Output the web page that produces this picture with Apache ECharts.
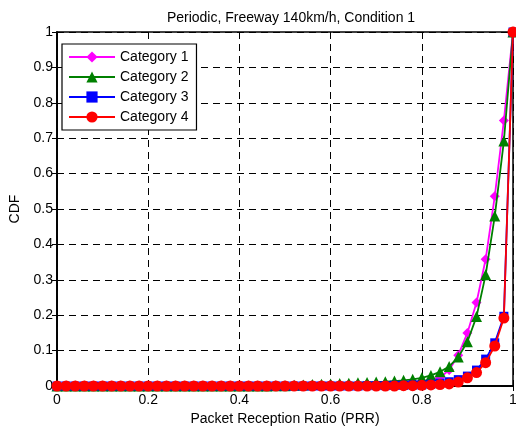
<!DOCTYPE html>
<html>
<head>
<meta charset="utf-8">
<script src="https://cdn.jsdelivr.net/npm/echarts@6/dist/echarts.min.js"></script>
<style>html,body{margin:0;padding:0;background:#fff;}#c{width:516px;height:430px;}</style>
</head>
<body>
<div id="c"></div>
<script>
var xVals = [0,0.02,0.04,0.06,0.08,0.10,0.12,0.14,0.16,0.18,0.20,0.22,0.24,0.26,0.28,0.30,0.32,0.34,0.36,0.38,0.40,0.42,0.44,0.46,0.48,0.50,0.52,0.54,0.56,0.58,0.60,0.62,0.64,0.66,0.68,0.70,0.72,0.74,0.76,0.78,0.80,0.82,0.84,0.86,0.88,0.90,0.92,0.94,0.96,0.98,1.00];
var cat1 = [0,0,0,0,0,0,0,0,0,0,0,0,0,0,0,0,0,0,0,0,0,0,0,0,0.001,0.001,0.002,0.002,0.003,0.003,0.004,0.004,0.005,0.005,0.006,0.006,0.007,0.008,0.009,0.011,0.013,0.017,0.024,0.045,0.087,0.15,0.236,0.358,0.536,0.75,1];
var cat2 = [0,0,0,0,0,0,0,0,0,0,0,0,0,0,0,0,0,0,0,0,0,0,0,0,0.001,0.001,0.002,0.003,0.004,0.005,0.006,0.007,0.008,0.009,0.010,0.011,0.012,0.014,0.016,0.019,0.023,0.030,0.040,0.055,0.082,0.125,0.196,0.314,0.48,0.692,1];
var cat3 = [0,0,0,0,0,0,0,0,0,0,0,0,0,0,0,0,0,0,0,0,0,0,0,0,0,0,0,0,0,0,0,0,0,0,0.001,0.001,0.001,0.002,0.002,0.003,0.003,0.005,0.008,0.012,0.018,0.028,0.045,0.076,0.122,0.197,1];
var cat4 = [0,0,0,0,0,0,0,0,0,0,0,0,0,0,0,0,0,0,0,0,0,0,0,0,0,0,0,0,0,0,0,0,0,0,0,0,0,0,0.001,0.001,0.002,0.003,0.004,0.006,0.011,0.023,0.038,0.066,0.113,0.192,1];
var names = ['Category 1','Category 2','Category 3','Category 4'];
var colors = ['#ff00ff','#008000','#0000ff','#ff0000'];
var symbols = ['diamond','triangle','rect','circle'];
var sizes = [10,11,9,11];
var xTicks = ['0','0.2','0.4','0.6','0.8','1'];

function pairs(arr){ return xVals.map(function(x,i){ return [x, arr[i]]; }); }
var allData = [cat1,cat2,cat3,cat4];
var series = allData.map(function(d,i){
  return {
    name: names[i], type:'line', data: pairs(d),
    symbol: symbols[i], symbolSize: sizes[i], showAllSymbol:true,
    lineStyle:{color:colors[i], width:1.8},
    itemStyle:{color:colors[i], borderWidth:0},
    z: 10+i, animation:false, clip:false
  };
});
var font = 'Arial, "Liberation Sans", sans-serif';
var chart = echarts.init(document.getElementById('c'), null, {renderer:'canvas'});
chart.setOption({
  animation:false,
  backgroundColor:'#fff',
  title:{text:'Periodic, Freeway 140km/h, Condition 1', left:286, top:6, textAlign:'center',
    textStyle:{fontFamily:font, fontSize:14, fontWeight:'normal', color:'#000'}},
  grid:{left:57, right:3, top:32, bottom:44, show:true, borderColor:'#000', borderWidth:1.5, backgroundColor:'transparent', containLabel:false, outerBoundsMode:'none'},
  legend:{orient:'vertical', left:62, top:44, padding:[6,8,6,6], itemGap:6, itemWidth:46, itemHeight:14,
    borderColor:'#000', borderWidth:1.2, backgroundColor:'#fff', data:names,
    textStyle:{fontFamily:font, fontSize:14, color:'#000'}},
  xAxis:[{type:'value', min:0, max:1, interval:0.2,
    name:'Packet Reception Ratio (PRR)', nameLocation:'middle', nameGap:14,
    nameTextStyle:{fontFamily:font, fontSize:14, color:'#000'},
    axisLine:{show:true, lineStyle:{color:'#000', width:1.5}},
    axisTick:{show:true, inside:true, length:5, lineStyle:{color:'#000'}},
    axisLabel:{fontFamily:font, fontSize:14, color:'#000', margin:7,
      formatter:function(v){ return xTicks[Math.round(v/0.2)]; }},
    splitLine:{show:true, lineStyle:{color:'#000', type:[7,5], width:1}}
  },{type:'value', position:'top', min:0, max:1, interval:0.2,
    axisLine:{show:true, lineStyle:{color:'#000', width:1.5}},
    axisTick:{show:true, inside:true, length:5, lineStyle:{color:'#000'}},
    axisLabel:{show:false}, splitLine:{show:false}}],
  yAxis:[{type:'value', min:0, max:1, interval:0.1,
    name:'CDF', nameLocation:'middle', nameGap:35,
    nameTextStyle:{fontFamily:font, fontSize:14, color:'#000'},
    axisLine:{show:true, lineStyle:{color:'#000', width:1.5}},
    axisTick:{show:true, inside:true, length:5, lineStyle:{color:'#000'}},
    axisLabel:{fontFamily:font, fontSize:14, color:'#000', margin:4,
      formatter:function(v){ return (Math.round(v*10)/10).toString(); }},
    splitLine:{show:true, lineStyle:{color:'#000', type:[7,5], width:1}}
  },{type:'value', position:'right', min:0, max:1, interval:0.1,
    axisLine:{show:true, lineStyle:{color:'#000', width:1.5}},
    axisTick:{show:true, inside:true, length:5, lineStyle:{color:'#000'}},
    axisLabel:{show:false}, splitLine:{show:false}}],
  series: series
});
</script>
</body>
</html>
